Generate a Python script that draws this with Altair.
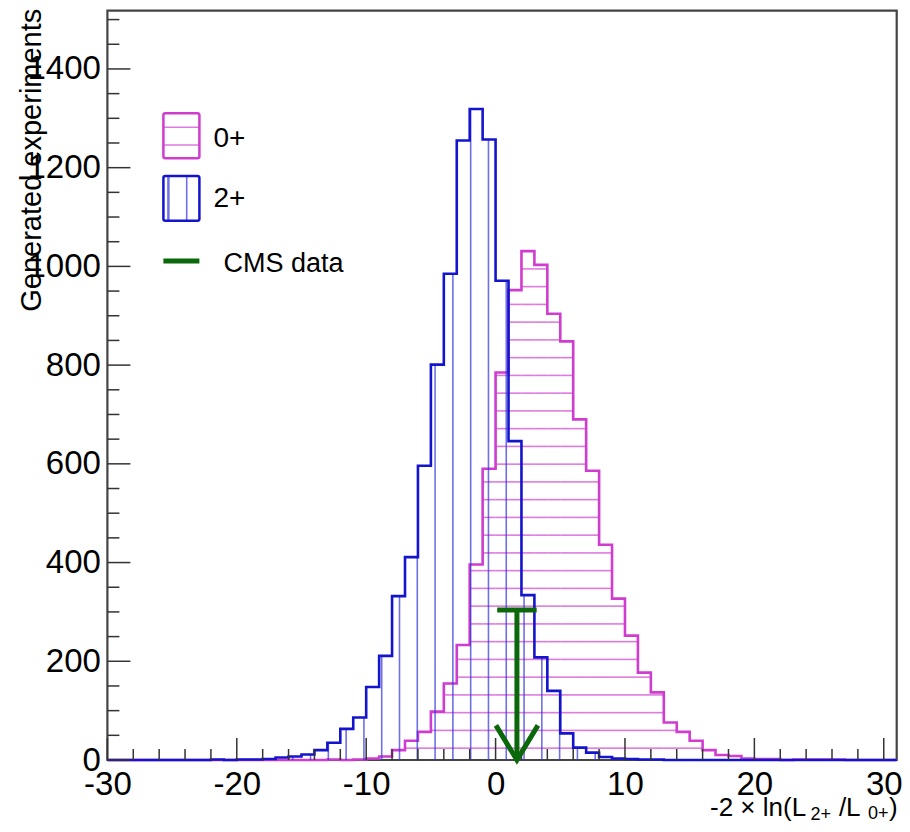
import math
import altair as alt
import pandas as pd

# ---------------- data ----------------
bin_left = list(range(-30, 31))          # 61 bins, width 1, on [-30, 31]
counts_0p = [0] * 17 + [1, 0, 1, 3, 7, 20, 39, 57, 98, 155, 233, 396, 590, 785, 952,
                        1031, 1003, 904, 848, 690, 586, 436, 327, 252, 177, 137, 76, 57, 39, 20,
                        10, 8, 3, 2, 2, 0, 1, 1, 1, 1, 0, 0, 0, 0]
counts_2p = [0] * 8 + [1, 0, 1, 1, 2, 5, 7, 11, 20, 35,
                       63, 86, 148, 211, 332, 411, 596, 801, 985, 1255,
                       1319, 1257, 971, 646, 334, 208, 140, 54, 25, 15,
                       6, 3, 2, 1, 1, 0, 0, 0, 0, 0] + [0] * 13
cms_value = 1.65
cms_arrow_top = 304

x_ticks_major = [-30, -20, -10, 0, 10, 20, 30]
x_ticks_minor = [v for v in range(-28, 31, 2) if v % 10 != 0]
y_ticks_major = [0, 200, 400, 600, 800, 1000, 1200, 1400]
y_ticks_minor = [v for v in range(50, 1501, 50) if v % 200 != 0]
legend_labels = ["0+", "2+", "CMS data"]
y_title = "Generated experiments"
x_title_parts = ["-2 \u00d7 ln(L", "2+", "/L", "0+", ")"]

# ---------------- style ----------------
W, H = 789.3, 749.3
XMIN, XMAX, YMAX = -30, 31, 1518
MAG, MAG_H = "#d03cd0", "#d24fd2"
BLU, BLU_H = "#1414cc", "#3232dc"
GRN = "#0a680a"
FONT = "Liberation Sans"
HATCH_DY, HATCH_Y0 = 35.96, 24.0      # horizontal hatch spacing (data units)
HATCH_DX, HATCH_X0 = 1.375, -8.8      # vertical hatch spacing (data units)

xs = alt.Scale(domain=[XMIN, XMAX], nice=False, zero=False)
ys = alt.Scale(domain=[0, YMAX], nice=False, zero=False)
xa = alt.Axis(values=x_ticks_major, title=None, ticks=False, domain=False, grid=False,
              labelFontSize=33, labelFont=FONT, labelColor="black", labelPadding=8,
              labelFlush=False, labelOverlap=False, labelBound=False,
              labelExpr="datum.value + ''")
ya = alt.Axis(values=y_ticks_major, title=None, ticks=False, domain=False, grid=False,
              labelFontSize=33, labelFont=FONT, labelColor="black", labelPadding=7,
              labelFlush=False, labelOverlap=False, labelBound=False,
              labelExpr="datum.value + ''")

def X(f):
    return alt.X(f, scale=xs, axis=xa)

def Y(f):
    return alt.Y(f, scale=ys, axis=ya)

def step_df(counts):
    return pd.DataFrame({"x": bin_left + [bin_left[-1] + 1], "y": counts + [counts[-1]]})

# horizontal hatch segments for 0+
mh = []
for e, c in zip(bin_left, counts_0p):
    k = 0
    while HATCH_Y0 + HATCH_DY * k < c:
        mh.append({"x": e, "x2": e + 1, "y": HATCH_Y0 + HATCH_DY * k})
        k += 1
mh = pd.DataFrame(mh)

# vertical hatch segments for 2+
bh = []
k = math.ceil((XMIN - HATCH_X0) / HATCH_DX)
while HATCH_X0 + HATCH_DX * k < XMAX:
    xv = HATCH_X0 + HATCH_DX * k
    c = counts_2p[int(math.floor(xv)) - XMIN]
    if c > 0:
        bh.append({"x": xv, "y": 0, "y2": c})
    k += 1
bh = pd.DataFrame(bh)

dummy = pd.DataFrame({"a": [0]})

# ---------------- layers ----------------
mag_hatch = alt.Chart(mh).mark_rule(color=MAG_H, strokeWidth=1.6, opacity=0.75).encode(
    x=X("x:Q"), x2="x2:Q", y=Y("y:Q"))
mag_line = alt.Chart(step_df(counts_0p)).mark_line(
    interpolate="step-after", color=MAG, strokeWidth=2.6).encode(x=X("x:Q"), y=Y("y:Q"))
blu_hatch = alt.Chart(bh).mark_rule(color=BLU_H, strokeWidth=1.6, opacity=0.7).encode(
    x=X("x:Q"), y=Y("y:Q"), y2="y2:Q")
blu_line = alt.Chart(step_df(counts_2p)).mark_line(
    interpolate="step-after", color=BLU, strokeWidth=2.6).encode(x=X("x:Q"), y=Y("y:Q"))

xt_major = alt.Chart(pd.DataFrame({"x": x_ticks_major})).mark_rule(color="#333", strokeWidth=1.5).encode(
    x=X("x:Q"), y=alt.value(H), y2=alt.value(H - 22))
xt_minor = alt.Chart(pd.DataFrame({"x": x_ticks_minor})).mark_rule(color="#333", strokeWidth=1.5).encode(
    x=X("x:Q"), y=alt.value(H), y2=alt.value(H - 11))
yt_major = alt.Chart(pd.DataFrame({"y": y_ticks_major})).mark_rule(color="#333", strokeWidth=1.5).encode(
    y=Y("y:Q"), x=alt.value(0), x2=alt.value(23))
yt_minor = alt.Chart(pd.DataFrame({"y": y_ticks_minor})).mark_rule(color="#333", strokeWidth=1.5).encode(
    y=Y("y:Q"), x=alt.value(0), x2=alt.value(12))

cms_df = pd.DataFrame({"x": [cms_value], "y": [cms_arrow_top], "y2": [0]})
cms_stem = alt.Chart(cms_df).mark_rule(color=GRN, strokeWidth=5).encode(
    x=X("x:Q"), y=Y("y2:Q"), y2="y:Q")
cms_bar = alt.Chart(cms_df).mark_point(
    shape="M -1 0 L 1 0", size=1560, strokeWidth=5, color=GRN, filled=False, opacity=1).encode(
    x=X("x:Q"), y=Y("y:Q"))
cms_head = alt.Chart(cms_df).mark_point(
    shape="M -1 -1.65 L 0 0 L 1 -1.65", size=1764, strokeWidth=5, color=GRN,
    filled=False, opacity=1).encode(x=X("x:Q"), y=Y("y2:Q"))

# ---------------- legend ----------------
def box(x1, x2, y1, y2, col):
    return alt.Chart(dummy).mark_rect(fillOpacity=0, stroke=col, strokeWidth=2.5, cornerRadius=2).encode(
        x=alt.value(x1), x2=alt.value(x2), y=alt.value(y1), y2=alt.value(y2))

def seg(x1, x2, y1, y2, col, w, op=1.0):
    return alt.Chart(dummy).mark_rule(color=col, strokeWidth=w, opacity=op).encode(
        x=alt.value(x1), x2=alt.value(x2), y=alt.value(y1), y2=alt.value(y2))

def label(txt, x, y, size, align="left", baseline="middle", angle=0):
    return alt.Chart(dummy).mark_text(
        align=align, baseline=baseline, fontSize=size, font=FONT, color="black", angle=angle).encode(
        x=alt.value(x), y=alt.value(y), text=alt.value(txt))

legend = [
    seg(56, 92, 116.6, 116.6, MAG_H, 1.6, 0.75), seg(56, 92, 134.3, 134.3, MAG_H, 1.6, 0.75),
    box(56, 92, 102.6, 147.6, MAG),
    seg(61, 61, 165.3, 210, BLU_H, 2.5, 0.7), seg(79.3, 79.3, 165.3, 210, BLU_H, 1.6, 0.7),
    box(56, 92, 165.3, 210, BLU),
    seg(56, 92, 250.3, 250.3, GRN, 5),
    label(legend_labels[0], 106, 128, 28),
    label(legend_labels[1], 106, 188, 28),
    label(legend_labels[2], 116, 253, 27),
]

titles = [
    label(y_title, -66.4, -2, 29, align="right", baseline="alphabetic", angle=270),
    label(x_title_parts[0], 602.6, 805.5, 26, baseline="alphabetic"),
    label(x_title_parts[1], 703.0, 809.3, 18, baseline="alphabetic"),
    label(x_title_parts[2], 731.5, 805.5, 26, baseline="alphabetic"),
    label(x_title_parts[3], 760.5, 808.0, 18, baseline="alphabetic"),
    label(x_title_parts[4], 781.5, 805.5, 26, baseline="alphabetic"),
]

chart = alt.layer(
    mag_hatch, mag_line, blu_hatch, blu_line,
    xt_major, xt_minor, yt_major, yt_minor,
    cms_stem, cms_bar, cms_head,
    *legend, *titles
).properties(
    width=W, height=H,
    autosize=alt.AutoSizeParams(type="none"),
    padding={"left": 99.4, "top": 2.7, "right": 5.3, "bottom": 64},
).configure(background="white").configure_view(stroke="#444", strokeWidth=2.2)

chart.save("out.html", embed_options={"renderer": "svg", "actions": False})
